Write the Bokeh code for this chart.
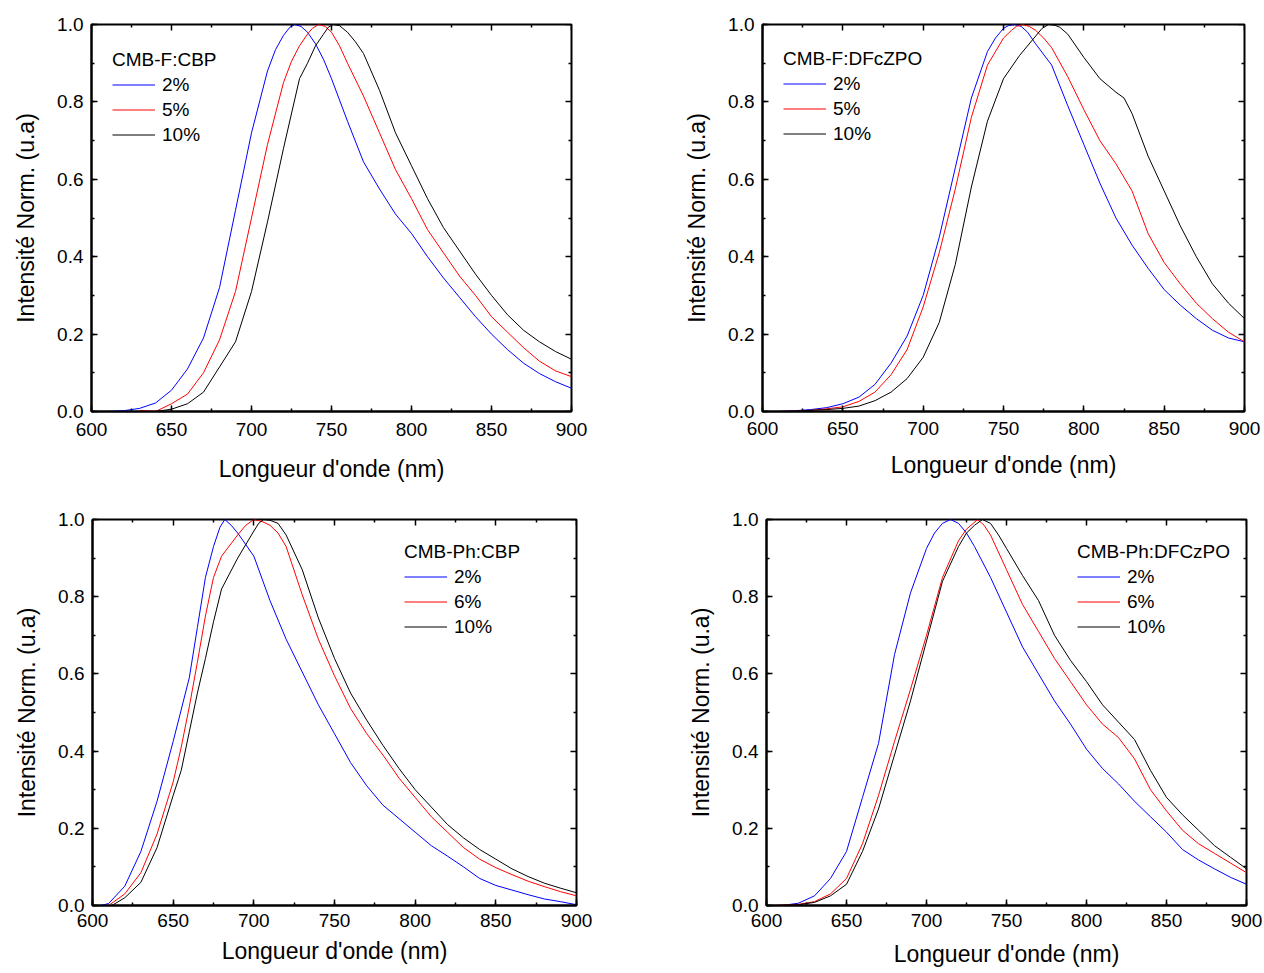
from bokeh.plotting import figure
from bokeh.models import (Range1d, LinearAxis, SingleIntervalTicker, FixedTicker,
                          PrintfTickFormatter, Legend, LegendItem)
from bokeh.layouts import column, row
from bokeh.embed import file_html
from bokeh.resources import INLINE

FONT = "Liberation Sans"

# ---------------- data ----------------
# Panel 1: CMB-F:CBP
f_cbp_2_x = [602, 610, 620, 630, 640, 650, 660, 670, 680, 690, 700, 710, 715, 720, 724, 727, 731, 735,
             740, 745, 750, 760, 770, 780, 790, 800, 810, 820, 830, 840, 850, 860, 870, 880, 890, 900]
f_cbp_2_y = [0.0, 0.0, 0.002, 0.008, 0.022, 0.055, 0.11, 0.19, 0.32, 0.52, 0.72, 0.88, 0.935, 0.972,
             0.993, 1.0, 0.995, 0.98, 0.95, 0.91, 0.86, 0.75, 0.645, 0.575, 0.51, 0.46, 0.40, 0.345,
             0.295, 0.245, 0.2, 0.16, 0.125, 0.098, 0.077, 0.06]
f_cbp_5_x = [630, 640, 650, 660, 670, 680, 690, 700, 710, 720, 725, 730, 735, 738, 742, 746, 750, 755,
             760, 770, 780, 790, 800, 810, 820, 830, 840, 850, 860, 870, 880, 890, 900]
f_cbp_5_y = [0.003, 0.0, 0.02, 0.045, 0.1, 0.185, 0.31, 0.5, 0.69, 0.85, 0.905, 0.945, 0.975, 0.99, 1.0,
             0.995, 0.98, 0.945, 0.9, 0.815, 0.72, 0.625, 0.55, 0.47, 0.41, 0.35, 0.3, 0.245, 0.205,
             0.165, 0.13, 0.105, 0.09]
f_cbp_10_x = [640, 650, 660, 670, 680, 690, 700, 710, 720, 730, 735, 740, 745, 748, 751, 755, 760, 765,
              770, 780, 790, 800, 810, 820, 830, 840, 850, 860, 870, 880, 890, 900]
f_cbp_10_y = [0.0, 0.006, 0.02, 0.05, 0.115, 0.18, 0.31, 0.49, 0.68, 0.86, 0.9, 0.945, 0.975, 0.993, 1.0,
              0.997, 0.98, 0.955, 0.925, 0.83, 0.72, 0.635, 0.55, 0.475, 0.415, 0.355, 0.3, 0.25, 0.21,
              0.18, 0.155, 0.135]

# Panel 2: CMB-F:DFcZPO
f_dfc_2_x = [610, 620, 630, 640, 650, 660, 670, 680, 690, 700, 710, 720, 730, 740, 745, 750, 753, 757,
             761, 765, 770, 780, 790, 800, 810, 820, 830, 840, 850, 860, 870, 880, 890, 900]
f_dfc_2_y = [0.0, 0.002, 0.005, 0.01, 0.02, 0.037, 0.07, 0.125, 0.195, 0.3, 0.45, 0.63, 0.81, 0.93, 0.965,
             0.99, 0.997, 1.0, 0.995, 0.98, 0.95, 0.895, 0.79, 0.69, 0.59, 0.5, 0.43, 0.37, 0.315, 0.275,
             0.24, 0.21, 0.19, 0.18]
f_dfc_5_x = [610, 620, 630, 640, 650, 660, 670, 680, 690, 700, 710, 720, 730, 740, 750, 755, 758, 762,
             766, 770, 775, 780, 790, 800, 810, 820, 830, 840, 850, 860, 870, 880, 890, 900]
f_dfc_5_y = [0.0, 0.001, 0.003, 0.007, 0.012, 0.026, 0.05, 0.095, 0.16, 0.27, 0.41, 0.575, 0.76, 0.895,
             0.965, 0.985, 0.995, 1.0, 0.995, 0.985, 0.965, 0.94, 0.865, 0.78, 0.7, 0.64, 0.57, 0.46,
             0.385, 0.33, 0.28, 0.24, 0.205, 0.18]
f_dfc_10_x = [610, 620, 630, 640, 650, 660, 670, 680, 690, 700, 710, 720, 730, 740, 750, 760, 770, 774,
              778, 782, 785, 790, 800, 810, 820, 825, 830, 840, 850, 860, 870, 880, 890, 900]
f_dfc_10_y = [0.0, 0.001, 0.003, 0.005, 0.008, 0.014, 0.028, 0.05, 0.085, 0.14, 0.23, 0.38, 0.58, 0.75,
              0.86, 0.92, 0.97, 0.99, 1.0, 0.998, 0.993, 0.975, 0.915, 0.86, 0.825, 0.81, 0.77, 0.66,
              0.57, 0.48, 0.4, 0.33, 0.28, 0.24]

# Panel 3: CMB-Ph:CBP
ph_cbp_2_x = [605, 610, 620, 630, 640, 650, 660, 665, 670, 675, 679, 682, 686, 690, 700, 710, 720, 730,
              740, 750, 760, 770, 780, 790, 800, 810, 820, 830, 840, 850, 860, 870, 880, 890, 900]
ph_cbp_2_y = [0.0, 0.005, 0.05, 0.14, 0.27, 0.425, 0.59, 0.72, 0.85, 0.93, 0.98, 1.0, 0.985, 0.965,
              0.905, 0.79, 0.69, 0.605, 0.52, 0.445, 0.37, 0.31, 0.26, 0.225, 0.19, 0.155, 0.128, 0.1,
              0.07, 0.052, 0.04, 0.028, 0.017, 0.01, 0.002]
ph_cbp_6_x = [610, 620, 630, 640, 650, 655, 660, 665, 670, 675, 680, 690, 695, 700, 705, 710, 715, 720,
              730, 740, 750, 760, 770, 780, 790, 800, 810, 820, 830, 840, 850, 860, 870, 880, 890, 900]
ph_cbp_6_y = [0.0, 0.03, 0.085, 0.185, 0.32, 0.41, 0.515, 0.63, 0.75, 0.85, 0.905, 0.96, 0.985, 1.0,
              0.995, 0.985, 0.965, 0.93, 0.805, 0.69, 0.595, 0.51, 0.445, 0.39, 0.33, 0.28, 0.23, 0.19,
              0.15, 0.12, 0.098, 0.08, 0.063, 0.049, 0.036, 0.025]
ph_cbp_10_x = [612, 620, 630, 640, 650, 655, 660, 665, 670, 675, 680, 690, 700, 703, 706, 710, 715, 720,
               730, 740, 750, 760, 770, 780, 790, 800, 810, 820, 830, 840, 850, 860, 870, 880, 890, 900]
ph_cbp_10_y = [0.0, 0.02, 0.06, 0.15, 0.285, 0.35, 0.45, 0.55, 0.64, 0.735, 0.82, 0.9, 0.97, 0.99, 1.0,
               0.998, 0.99, 0.96, 0.87, 0.745, 0.64, 0.55, 0.48, 0.415, 0.355, 0.3, 0.255, 0.21, 0.175,
               0.145, 0.12, 0.095, 0.075, 0.058, 0.045, 0.033]

# Panel 4: CMB-Ph:DFCzPO
ph_dfc_2_x = [605, 610, 620, 630, 640, 650, 660, 670, 680, 690, 700, 705, 710, 715, 720, 725, 730, 740,
              750, 760, 770, 780, 790, 800, 810, 820, 830, 840, 850, 860, 870, 880, 890, 900]
ph_dfc_2_y = [0.0, 0.0, 0.006, 0.025, 0.07, 0.14, 0.28, 0.42, 0.65, 0.81, 0.925, 0.965, 0.99, 1.0, 0.99,
              0.965, 0.93, 0.85, 0.76, 0.67, 0.6, 0.53, 0.47, 0.405, 0.355, 0.315, 0.27, 0.23, 0.19,
              0.145, 0.118, 0.095, 0.073, 0.055]
ph_dfc_6_x = [605, 620, 630, 640, 650, 660, 670, 680, 690, 700, 710, 720, 725, 732, 736, 740, 750, 760,
              770, 780, 790, 800, 810, 820, 830, 840, 850, 860, 870, 880, 890, 900]
ph_dfc_6_y = [0.0, 0.003, 0.01, 0.03, 0.07, 0.16, 0.285, 0.425, 0.56, 0.7, 0.85, 0.945, 0.975, 1.0, 0.985,
              0.96, 0.87, 0.78, 0.71, 0.64, 0.58, 0.52, 0.47, 0.435, 0.38, 0.3, 0.245, 0.195, 0.16, 0.135,
              0.11, 0.085]
ph_dfc_10_x = [605, 620, 630, 640, 650, 660, 670, 680, 690, 700, 710, 720, 725, 730, 735, 740, 745, 750,
               760, 770, 780, 790, 800, 810, 820, 830, 840, 850, 860, 870, 880, 890, 900]
ph_dfc_10_y = [0.0, 0.002, 0.008, 0.025, 0.055, 0.14, 0.25, 0.39, 0.53, 0.685, 0.84, 0.93, 0.965, 0.985,
               1.0, 0.99, 0.96, 0.925, 0.855, 0.79, 0.7, 0.635, 0.58, 0.52, 0.475, 0.43, 0.35, 0.28,
               0.235, 0.195, 0.155, 0.125, 0.095]

# tick positions
x_major_ticks = [600, 650, 700, 750, 800, 850, 900]
x_minor_ticks = [625, 675, 725, 775, 825, 875]
y_major_ticks = [0.0, 0.2, 0.4, 0.6, 0.8, 1.0]
y_minor_ticks = [0.1, 0.3, 0.5, 0.7, 0.9]

x_label = "Longueur d'onde (nm)"
y_label = "Intensité Norm. (u.a)"
colors = ["#0000FF", "#FF0000", "#000000"]


def style_axis(ax):
    ax.axis_line_width = 2
    ax.axis_line_color = "black"
    ax.major_tick_in = 6
    ax.major_tick_out = 0
    ax.minor_tick_in = 3
    ax.minor_tick_out = 0
    ax.major_tick_line_width = 1.5
    ax.minor_tick_line_width = 1.5
    ax.major_tick_line_color = "black"
    ax.minor_tick_line_color = "black"
    ax.major_label_text_font = FONT
    ax.major_label_text_font_size = "19px"
    ax.major_label_text_color = "black"
    ax.axis_label_text_font = FONT
    ax.axis_label_text_font_size = "23px"
    ax.axis_label_text_font_style = "normal"
    ax.axis_label_text_color = "black"


def tick_only_axis(p, side, loc, ticks, length):
    ax = LinearAxis(ticker=FixedTicker(ticks=[], minor_ticks=ticks), fixed_location=loc)
    ax.axis_line_color = None
    ax.major_tick_line_color = None
    ax.minor_tick_in = length
    ax.minor_tick_out = 0
    ax.minor_tick_line_width = 1.5
    ax.minor_tick_line_color = "black"
    p.add_layout(ax, side)


def panel(width, height, left, right, top, bottom, series, labels, title, legend_xy,
          tick_stand, label_stand):
    p = figure(width=width, height=height, x_range=Range1d(600, 900), y_range=Range1d(0, 1.0),
               output_backend="svg", toolbar_location=None, x_axis_type=None, y_axis_type=None,
               min_border_left=left, min_border_right=right, min_border_top=top,
               min_border_bottom=bottom)
    p.outline_line_color = "black"
    p.outline_line_width = 2
    p.background_fill_color = "white"
    p.border_fill_color = "white"

    xb = LinearAxis(ticker=SingleIntervalTicker(interval=50, num_minor_ticks=2), axis_label=x_label,
                    major_label_standoff=tick_stand, axis_label_standoff=label_stand)
    style_axis(xb)
    p.add_layout(xb, "below")
    yl = LinearAxis(ticker=SingleIntervalTicker(interval=0.2, num_minor_ticks=2), axis_label=y_label,
                    formatter=PrintfTickFormatter(format="%.1f"),
                    major_label_standoff=8, axis_label_standoff=15)
    style_axis(yl)
    p.add_layout(yl, "left")

    tick_only_axis(p, "above", 1.0, x_major_ticks, 6)
    tick_only_axis(p, "above", 1.0, x_minor_ticks, 3)
    tick_only_axis(p, "right", 900, y_major_ticks, 6)
    tick_only_axis(p, "right", 900, y_minor_ticks, 3)

    items = []
    for (xs, ys), lab, c in zip(series, labels, colors):
        r = p.line(xs, ys, line_color=c, line_width=1)
        items.append(LegendItem(label=lab, renderers=[r]))
    leg = Legend(items=items, location=legend_xy, title=title,
                 title_text_font=FONT, title_text_font_size="19px", title_text_font_style="normal",
                 title_text_color="black", title_standoff=1,
                 label_text_font=FONT, label_text_font_size="19px", label_text_color="black",
                 label_height=25, glyph_height=25, glyph_width=43, label_standoff=7,
                 spacing=0, padding=0, margin=0,
                 border_line_color=None, background_fill_alpha=0)
    p.add_layout(leg)
    return p


p1 = panel(632, 490, 91, 61, 24, 78,
           [(f_cbp_2_x, f_cbp_2_y), (f_cbp_5_x, f_cbp_5_y), (f_cbp_10_x, f_cbp_10_y)],
           ["2%", "5%", "10%"], "CMB-F:CBP", (21, 264), 11, 17)
p2 = panel(632, 490, 130, 20, 21, 79,
           [(f_dfc_2_x, f_dfc_2_y), (f_dfc_5_x, f_dfc_5_y), (f_dfc_10_x, f_dfc_10_y)],
           ["2%", "5%", "10%"], "CMB-F:DFcZPO", (21, 265), 10, 14)
p3 = panel(632, 483, 92, 56, 29, 65,
           [(ph_cbp_2_x, ph_cbp_2_y), (ph_cbp_6_x, ph_cbp_6_y), (ph_cbp_10_x, ph_cbp_10_y)],
           ["2%", "6%", "10%"], "CMB-Ph:CBP", (312, 266), 8, 8)
p4 = panel(632, 483, 134, 18, 24, 68,
           [(ph_dfc_2_x, ph_dfc_2_y), (ph_dfc_6_x, ph_dfc_6_y), (ph_dfc_10_x, ph_dfc_10_y)],
           ["2%", "6%", "10%"], "CMB-Ph:DFCzPO", (311, 266), 8, 11)

layout = column(row(p1, p2), row(p3, p4))
open("out.html", "w").write(file_html(layout, INLINE))
